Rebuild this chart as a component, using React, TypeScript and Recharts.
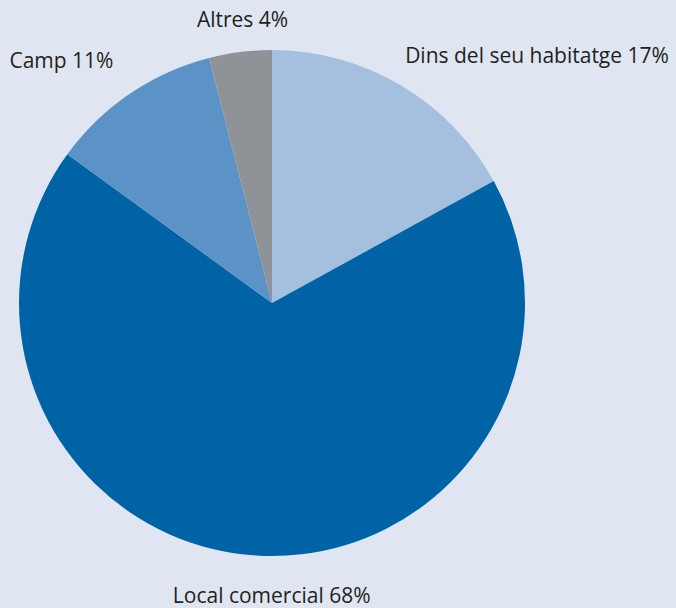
import { PieChart, Pie, Cell } from 'recharts';

const categories = ['Dins del seu habitatge', 'Local comercial', 'Camp', 'Altres'];
const shares = [17, 68, 11, 4];
const sliceColors = ['#a5bfdf', '#0063a6', '#5b93c7', '#8f9398'];

// small nudges so labels sit where the original has them
const labelNudgeX = [-15, 18, 5, 7];
const labelNudgeY = [2, 2, -2, 5];

const chartData = categories.map((name, i) => ({ name, value: shares[i] }));

const RAD = Math.PI / 180;

const renderLabel = (props: any) => {
    const { cx, cy, midAngle, outerRadius, index } = props;
    const r = outerRadius + 38;
    const cos = Math.cos(-midAngle * RAD);
    const x = cx + r * cos + labelNudgeX[index];
    const y = cy + r * Math.sin(-midAngle * RAD) + labelNudgeY[index];
    const anchor = cos > 0.3 ? 'start' : cos < -0.3 ? 'end' : 'middle';
    return (
        <text
            x={x}
            y={y}
            textAnchor={anchor}
            dominantBaseline="central"
            fill="#231f20"
            fontSize={21}
            fontFamily="'Open Sans', sans-serif"
        >
            {`${chartData[index].name} ${chartData[index].value}%`}
        </text>
    );
};

export default function App() {
    return (
        <div style={{ position: 'absolute', left: 0, top: 0, width: 676, height: 608, background: '#dfe6f1' }}>
            <PieChart width={676} height={608} margin={{ top: 0, right: 0, bottom: 0, left: 0 }}>
                <Pie
                    data={chartData}
                    dataKey="value"
                    nameKey="name"
                    cx={272}
                    cy={303}
                    outerRadius={253}
                    startAngle={90}
                    endAngle={-270}
                    stroke="none"
                    label={renderLabel}
                    labelLine={false}
                    isAnimationActive={false}
                >
                    {chartData.map((d, i) => (
                        <Cell key={d.name} fill={sliceColors[i]} />
                    ))}
                </Pie>
            </PieChart>
        </div>
    );
}
